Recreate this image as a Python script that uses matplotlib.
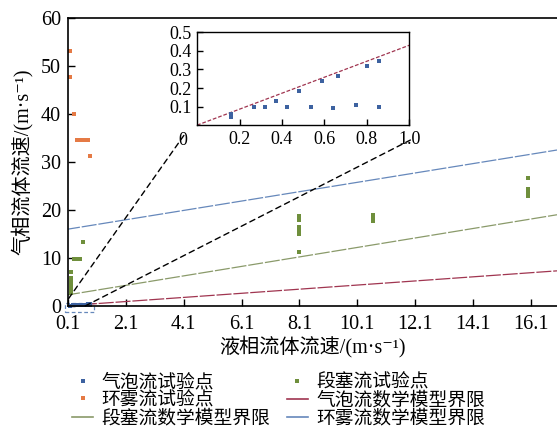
import matplotlib
matplotlib.use('Agg')
import matplotlib.pyplot as plt
from matplotlib.patches import Rectangle, ConnectionPatch
from matplotlib.lines import Line2D
import numpy as np

plt.rcParams['font.family'] = ['Liberation Serif', 'DejaVu Serif', 'Noto Sans CJK SC']
plt.rcParams['axes.unicode_minus'] = False

# 气泡流试验点 (液相, 气相)
bubble_x = [0.16, 0.16, 0.27, 0.32, 0.37, 0.425, 0.48, 0.535, 0.59, 0.64, 0.665, 0.75, 0.80, 0.855, 0.855]
bubble_y = [0.058, 0.042, 0.10, 0.10, 0.13, 0.10, 0.184, 0.10, 0.24, 0.09, 0.264, 0.11, 0.32, 0.345, 0.10]

# 段塞流试验点
slug_x = [0.2, 0.2, 0.2, 0.2, 0.2, 0.2, 0.3, 0.4, 0.5, 0.63,
          8.1, 8.1, 8.1, 8.1, 8.1, 8.1, 10.65, 10.65, 10.65, 16.0, 16.0, 16.0, 16.0]
slug_y = [7.0, 5.8, 5.0, 4.2, 3.3, 2.6, 9.8, 9.8, 9.8, 13.4,
          18.8, 18.0, 16.4, 15.6, 14.9, 11.3, 19.0, 18.3, 17.7, 26.6, 24.4, 23.6, 23.0]

# 环雾流试验点
annular_x = [0.16, 0.16, 0.3, 0.4, 0.5, 0.6, 0.7, 0.8, 0.86]
annular_y = [53.2, 47.8, 40.0, 34.6, 34.6, 34.6, 34.6, 34.6, 31.3]

# 数学模型界限 (两端点)
bound_x = [0.0, 17.0]
bubble_bound = [0.0, 7.3]
slug_bound = [2.2, 19.0]
annular_bound = [15.9, 32.5]

x_ticks = [0.1, 2.1, 4.1, 6.1, 8.1, 10.1, 12.1, 14.1, 16.1]
y_ticks = [0, 10, 20, 30, 40, 50, 60]
inset_xticks = [0.2, 0.4, 0.6, 0.8, 1.0]
inset_yticks = [0.1, 0.2, 0.3, 0.4, 0.5]

c_bubble = '#3d62a0'
c_slug = '#6f8f3c'
c_annular = '#e57a45'
c_bline = '#a03550'
c_sline = '#8a9a6a'
c_aline = '#6688bb'

fig = plt.figure(figsize=(5.57, 4.32), dpi=100)
ax = fig.add_axes([0.122, 0.292, 0.878, 0.666])

ax.plot(bound_x, bubble_bound, color=c_bline, lw=0.9, dashes=(12, 1.5))
ax.plot(bound_x, slug_bound, color=c_sline, lw=0.9, dashes=(12, 1.5))
ax.plot(bound_x, annular_bound, color=c_aline, lw=0.9, dashes=(12, 1.5))

ax.plot(bubble_x, bubble_y, 's', color=c_bubble, ms=2.2, mew=0, clip_on=False)
ax.plot(slug_x, slug_y, 's', color=c_slug, ms=2.2, mew=0)
ax.plot(annular_x, annular_y, 's', color=c_annular, ms=2.2, mew=0)

ax.add_patch(Rectangle((0.0, -1.2), 1.0, 1.8, fill=False, ec=c_aline,
                       lw=0.9, ls=(0, (3, 2)), clip_on=False))

ax.set_xlim(0.1, 17.0)
ax.set_ylim(0, 60)
ax.set_xticks(x_ticks)
ax.set_xticklabels([f'{v:.1f}' for v in x_ticks])
ax.set_yticks(y_ticks)
ax.tick_params(direction='in', length=5, width=1.0, labelsize=14.5)
ax.tick_params(axis='x', pad=6.5)
ax.tick_params(axis='y', pad=5)
ax.spines['right'].set_visible(False)
for s in ['left', 'bottom', 'top']:
    ax.spines[s].set_linewidth(1.2)
ax.set_xlabel('液相流体流速/(m·s⁻¹)', fontsize=14.5, labelpad=1)
ax.set_ylabel('气相流体流速/(m·s⁻¹)', fontsize=14.5, labelpad=6)

# 局部放大图
axin = ax.inset_axes([0.264, 0.628, 0.434, 0.323])
axin.plot([0.0, 1.0], [0.0, 0.43], color=c_bline, lw=0.9, dashes=(3, 1.5))
axin.plot(bubble_x, bubble_y, 's', color=c_bubble, ms=2.4, mew=0)
axin.set_xlim(0, 1.0)
axin.set_ylim(0, 0.5)
axin.set_xticks(inset_xticks)
axin.set_xticklabels([f'{v:.1f}' for v in inset_xticks])
axin.set_yticks(inset_yticks)
axin.tick_params(direction='in', length=4, width=1.0, labelsize=13, pad=4)
for s in axin.spines.values():
    s.set_linewidth(1.0)
axin.text(-0.066, -0.17, '0', transform=axin.transAxes, fontsize=13,
          ha='center', va='center')

for xy_main, xy_in in [((0.12, 1.5), (-0.062, -0.11)), ((0.70, 0.0), (1.005, -0.16))]:
    con = ConnectionPatch(xyA=xy_main, coordsA=ax.transData, xyB=xy_in,
                          coordsB=axin.transAxes, color='black', lw=1.0,
                          ls=(0, (4, 3)))
    fig.add_artist(con)

handles = [
    Line2D([], [], ls='', marker='s', ms=2.6, mew=0, color=c_bubble),
    Line2D([], [], ls='', marker='s', ms=2.6, mew=0, color=c_annular),
    Line2D([], [], color=c_sline, lw=1.2),
    Line2D([], [], ls='', marker='s', ms=2.6, mew=0, color=c_slug),
    Line2D([], [], color=c_bline, lw=1.2),
    Line2D([], [], color=c_aline, lw=1.2),
]
labels = ['气泡流试验点', '环雾流试验点', '段塞流数学模型界限',
          '段塞流试验点', '气泡流数学模型界限', '环雾流数学模型界限']
fig.legend(handles, labels, loc='upper center', bbox_to_anchor=(0.5, 0.157),
           ncol=2, frameon=False, fontsize=13.5, handlelength=1.1,
           handletextpad=0.45, columnspacing=0.9, labelspacing=0.02,
           borderpad=0.0, numpoints=1)

fig.savefig('out.png', dpi=100)
